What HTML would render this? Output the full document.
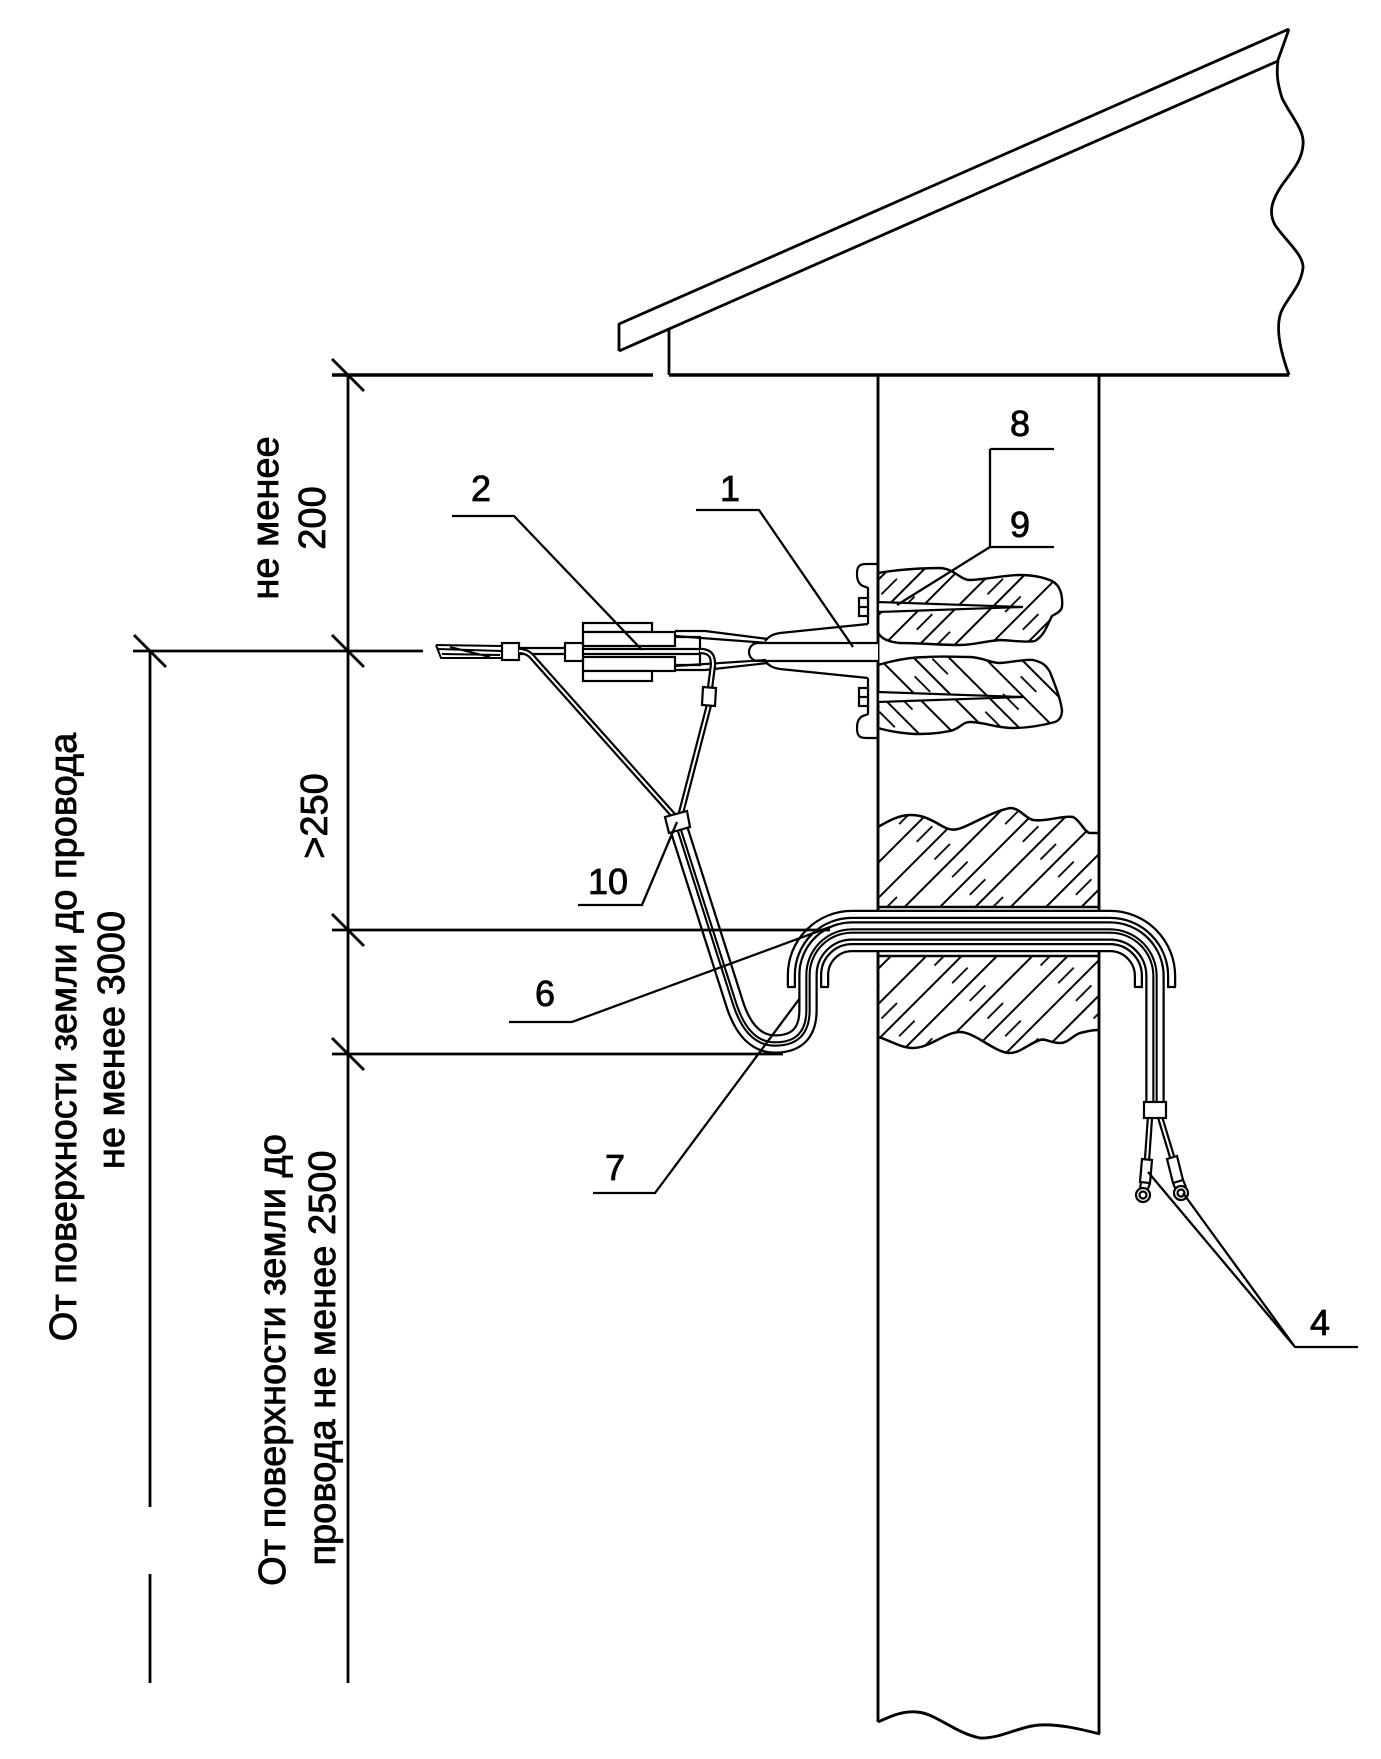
<!DOCTYPE html>
<html><head><meta charset="utf-8"><style>html,body{margin:0;padding:0;background:#fff}svg{display:block}</style></head>
<body>
<svg width="1381" height="1759" viewBox="0 0 1381 1759" xmlns="http://www.w3.org/2000/svg">
<defs>
<pattern id="hs" patternUnits="userSpaceOnUse" width="25" height="75" patternTransform="rotate(45)">
<line x1="6" y1="0" x2="6" y2="75" stroke="#000" stroke-width="2"/>
<line x1="18.5" y1="0" x2="18.5" y2="75" stroke="#000" stroke-width="1.8" stroke-dasharray="22 53"/>
</pattern>
<pattern id="hb" patternUnits="userSpaceOnUse" width="25" height="75" patternTransform="rotate(-45)">
<line x1="6" y1="0" x2="6" y2="75" stroke="#000" stroke-width="2"/>
<line x1="18.5" y1="0" x2="18.5" y2="75" stroke="#000" stroke-width="1.8" stroke-dasharray="22 53"/>
</pattern>
</defs>
<rect width="1381" height="1759" fill="#fff"/>

<!-- Roof -->
<g stroke="#000" fill="none" stroke-width="2.8" stroke-linejoin="round">
<path d="M619,351 L619,324 L1289,29"/>
<path d="M619,351 L1278,61"/>
<path d="M1289,29 L1278,60 C1276,75 1278,85 1282,98 C1290,115 1305,130 1303,145 C1302,160 1293,170 1282,185 C1272,200 1268,212 1275,225 C1285,240 1304,255 1303,268 C1301,285 1290,295 1283,308 C1275,322 1278,345 1289,375"/>
<path d="M669,329 L669,375"/>
<path d="M332,375 L653,375 M669,375 L1289,375" stroke-width="3.4"/>
</g>

<!-- Column -->
<g stroke="#000" fill="none" stroke-width="2.9">
<path d="M878,375 L878,1722"/>
<path d="M1099,375 L1099,1734"/>
<path d="M878,1722 C895,1714 905,1711 917,1712 C935,1713 955,1733 980,1738 C1000,1739 1020,1726 1040,1725 C1060,1724 1080,1729 1100,1734"/>
</g>

<!-- Wall hatch blocks -->
<path d="M878,827 C890,820 900,815 910,815 C920,815 925,817 935,822 C945,828 950,831 958,829 C968,827 990,812 1010,808 C1020,808 1025,818 1033,820 C1045,822 1065,815 1073,817 C1080,820 1085,833 1090,833 L1099,833 L1099,907 L878,907 Z" fill="url(#hs)" stroke="none"/>
<path d="M878,827 C890,820 900,815 910,815 C920,815 925,817 935,822 C945,828 950,831 958,829 C968,827 990,812 1010,808 C1020,808 1025,818 1033,820 C1045,822 1065,815 1073,817 C1080,820 1085,833 1090,833 L1099,833 M878,907 L1099,907" fill="none" stroke="#000" stroke-width="2.5"/>
<path d="M878,956 L1099,956 L1099,1030 C1090,1030 1085,1032 1080,1033 C1072,1036 1068,1043 1060,1043 C1050,1043 1045,1038 1040,1040 C1030,1043 1020,1053 1010,1053 C995,1053 975,1032 960,1032 C945,1032 930,1048 913,1048 C900,1048 885,1038 878,1037 Z" fill="url(#hs)" stroke="none"/>
<path d="M878,956 L1099,956 M1099,1030 C1090,1030 1085,1032 1080,1033 C1072,1036 1068,1043 1060,1043 C1050,1043 1045,1038 1040,1040 C1030,1043 1020,1053 1010,1053 C995,1053 975,1032 960,1032 C945,1032 930,1048 913,1048 C900,1048 885,1038 878,1037" fill="none" stroke="#000" stroke-width="2.5"/>

<!-- Anchor blobs -->
<path d="M878,573 C895,570 920,568 940,568 C955,569 960,580 970,580 C990,579 1005,575 1020,575 C1035,575 1045,578 1052,581 C1060,585 1063,595 1062,607 C1061,612 1055,614 1052,616 C1047,625 1045,635 1035,641 C1025,643 1010,640 1000,640 C985,641 975,645 960,645 C940,645 920,643 900,643 C888,642 880,638 878,632 Z" fill="url(#hs)" stroke="#000" stroke-width="2.4"/>
<path d="M878,665 C895,660 910,657 927,657 C945,656 960,657 970,657 C985,658 990,663 1000,663 C1015,662 1025,659 1033,660 C1042,662 1046,665 1050,672 C1055,685 1060,697 1062,710 C1062,716 1060,720 1055,722 C1040,726 1025,728 1013,728 C995,728 985,722 970,722 C962,722 960,729 950,731 C935,734 925,734 915,734 C900,733 888,731 878,728 Z" fill="url(#hb)" stroke="#000" stroke-width="2.4"/>
<g fill="#fff" stroke="#000" stroke-width="2.2">
<polygon points="878,602 1023,607 878,612"/>
<polygon points="878,692 1023,697 878,702"/>
</g>

<!-- Bracket / hook (1) -->
<g stroke="#000" fill="none" stroke-width="2.2">
<path d="M878,564 L866,564 C858,564 857,568 857,574 C857,582 860,586 866,587 L868,588 L868,624"/>
<path d="M878,738 L866,738 C858,738 857,734 857,728 C857,720 860,716 866,715 L868,714 L868,678"/>
<rect x="859" y="598" width="9" height="18" fill="#fff"/>
<rect x="859" y="688" width="9" height="18" fill="#fff"/>
<line x1="859" y1="607" x2="868" y2="607"/>
<line x1="859" y1="697" x2="868" y2="697"/>
<path d="M868,624 L780,633 C772,634 768,637 765,641"/>
<path d="M868,678 L780,669 C772,668 768,665 765,661"/>
<path d="M878,643 L758,643 A9,9 0 0 0 758,661 L878,661" fill="#fff"/>
<path d="M675,631 L705,631 L768,639"/>
<path d="M675,636 L768,643"/>
<path d="M675,670 L705,670 L768,663"/>
<path d="M675,666 L766,660"/>
</g>

<!-- Clamp (2) -->
<g stroke="#000" fill="#fff" stroke-width="2.2">
<rect x="583" y="623" width="69" height="9"/>
<rect x="583" y="632" width="92" height="14"/>
<rect x="583" y="657" width="92" height="14"/>
<rect x="583" y="671" width="69" height="10"/>
<rect x="565" y="643" width="18" height="18"/>
<path d="M675,637 L700,637 L700,665 L675,665" fill="none"/>
<path d="M519,648 L565,648 M519,654 L565,654 M583,649 L700,649 M583,654 L700,654" fill="none"/>
</g>

<!-- Wire end -->
<g stroke="#000" fill="none" stroke-width="2">
<path d="M436,645 L502,646 M436,645 L441,658 L502,658 M438,649 L502,651 M442,654 L500,655 M450,647 L490,657"/>
<rect x="502" y="643" width="17" height="17" fill="#fff" stroke-width="2.2"/>
</g>

<!-- drops (double lines) -->
<g fill="none" stroke-linecap="butt" stroke-linejoin="round">
<path d="M519,651 C526,651 530,654 534,659 L674,816" stroke="#000" stroke-width="6.4"/>
<path d="M519,651 C526,651 530,654 534,659 L674,816" stroke="#fff" stroke-width="2"/>
<path d="M700,651 C712,651 713,658 713,665 L710,688" stroke="#000" stroke-width="6.4"/>
<path d="M700,651 C712,651 713,658 713,665 L710,688" stroke="#fff" stroke-width="2"/>
<path d="M709,705 L681,813" stroke="#000" stroke-width="6.4"/>
<path d="M709,705 L681,813" stroke="#fff" stroke-width="2"/>
</g>
<polygon points="703,687 716,688 715,706 702,705" fill="#fff" stroke="#000" stroke-width="2.2"/>

<!-- Tube -->
<g fill="none" stroke-linecap="butt" stroke-linejoin="round">
<path d="M808,987 L808,975 A44,44 0 0 1 852,931 L1110,931 A45,45 0 0 1 1155,976 L1155,987" stroke="#000" stroke-width="42.5"/>
<path d="M808,988 L808,975 A44,44 0 0 1 852,931 L1110,931 A45,45 0 0 1 1155,976 L1155,988" stroke="#fff" stroke-width="38"/>
<path d="M808,987 L808,975 A44,44 0 0 1 852,931 L1110,931 A45,45 0 0 1 1155,976 L1155,987" stroke="#000" stroke-width="28.5"/>
<path d="M808,988 L808,975 A44,44 0 0 1 852,931 L1110,931 A45,45 0 0 1 1155,976 L1155,988" stroke="#fff" stroke-width="24"/>
<path d="M787,987 L796,987 M820,987 L829,987 M1134,987 L1143,987 M1167,987 L1176,987" stroke="#000" stroke-width="2.2"/>
</g>

<!-- Cable -->
<g fill="none" stroke-linecap="butt" stroke-linejoin="round">
<path d="M678,826 L735,1005 Q748,1044 775,1044 Q808,1044 808,1010 L808,975 A44,44 0 0 1 852,931 L1110,931 A45,45 0 0 1 1155,976 L1155,1104" stroke="#000" stroke-width="19.5"/>
<path d="M678,826 L735,1005 Q748,1044 775,1044 Q808,1044 808,1010 L808,975 A44,44 0 0 1 852,931 L1110,931 A45,45 0 0 1 1155,976 L1155,1104" stroke="#fff" stroke-width="15"/>
<path d="M678,826 L735,1005 Q748,1044 775,1044 Q808,1044 808,1010 L808,975 A44,44 0 0 1 852,931 L1110,931 A45,45 0 0 1 1155,976 L1155,1104" stroke="#000" stroke-width="5.4"/>
<path d="M678,826 L735,1005 Q748,1044 775,1044 Q808,1044 808,1010 L808,975 A44,44 0 0 1 852,931 L1110,931 A45,45 0 0 1 1155,976 L1155,1104" stroke="#fff" stroke-width="1.2"/>
</g>
<polygon points="665,817 687,811 690,827 669,833" fill="#fff" stroke="#000" stroke-width="2.2"/>

<!-- right wires and lugs -->
<g fill="none">
<path d="M1150,1117 L1147,1160" stroke="#000" stroke-width="6.4"/>
<path d="M1150,1117 L1147,1160" stroke="#fff" stroke-width="2"/>
<path d="M1160,1117 L1173,1160" stroke="#000" stroke-width="6.4"/>
<path d="M1160,1117 L1173,1160" stroke="#fff" stroke-width="2"/>
</g>
<g stroke="#000" fill="#fff" stroke-width="2.2">
<rect x="1144" y="1102" width="22" height="16"/>
<polygon points="1142,1159 1152,1160 1150,1183 1140,1182"/>
<path d="M1141,1182 L1140,1189 M1150,1183 L1148,1189" fill="none"/>
<circle cx="1143" cy="1195" r="7"/>
<circle cx="1143" cy="1195" r="3.5"/>
<polygon points="1167,1159 1177,1156 1183,1180 1173,1183"/>
<path d="M1173,1183 L1175,1188 M1183,1180 L1186,1187" fill="none"/>
<circle cx="1181" cy="1193" r="7"/>
<circle cx="1181" cy="1193" r="3.5"/>
</g>

<!-- Dimensions -->
<g stroke="#000" fill="none" stroke-width="2.8">
<path d="M348,375 L348,1683"/>
<path d="M150,651 L150,1507 M150,1574 L150,1683"/>
<path d="M133,651 L423,651"/>
<path d="M332,930 L830,930"/>
<path d="M332,1054 L783,1054"/>
<path d="M332,359 L364,391 M332,635 L364,667 M134,635 L166,667 M332,914 L364,946 M332,1038 L364,1070"/>
</g>

<!-- Leaders -->
<g stroke="#000" fill="none" stroke-width="2.3">
<path d="M990,449 L1054,449 M990,449 L990,547"/>
<path d="M990,547 L1054,547 M990,547 L897,605"/>
<path d="M452,516 L514,516 L642,650"/>
<path d="M696,510 L759,510 L853,647"/>
<path d="M578,905 L642,905 L677,822"/>
<path d="M509,1022 L572,1022 L830,927"/>
<path d="M593,1193 L655,1193 L800,998"/>
<path d="M1358,1347 L1295,1347 L1148,1172 M1295,1347 L1183,1193"/>
</g>

<!-- Labels -->
<g font-family="'Liberation Sans', Arial, sans-serif" font-size="36" fill="#000" stroke="#000" stroke-width="0.8" text-anchor="middle">
<text x="1020" y="436">8</text>
<text x="1020" y="537">9</text>
<text x="481" y="501">2</text>
<text x="730" y="501">1</text>
<text x="608" y="894">10</text>
<text x="545" y="1006">6</text>
<text x="615" y="1180">7</text>
<text x="1320" y="1335">4</text>
</g>

<!-- Rotated texts -->
<g font-family="'Liberation Sans', Arial, sans-serif" font-size="38" fill="#000" stroke="#000" stroke-width="0.8" text-anchor="middle">
<text transform="translate(278,518) rotate(-90)">не менее</text>
<text transform="translate(325,518) rotate(-90)">200</text>
<text transform="translate(327,816) rotate(-90)">&gt;250</text>
<text transform="translate(76,1037) rotate(-90)">От поверхности земли до провода</text>
<text transform="translate(124,1040) rotate(-90)">не менее 3000</text>
<text transform="translate(285,1360) rotate(-90)">От поверхности земли до</text>
<text transform="translate(335,1358) rotate(-90)">провода не менее 2500</text>
</g>
</svg>
</body></html>
